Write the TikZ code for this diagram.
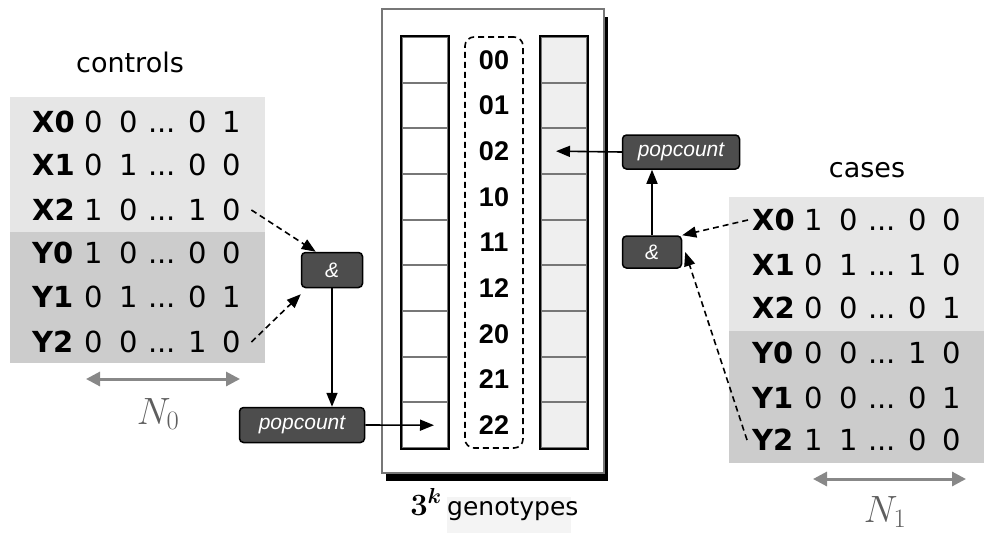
\RequirePackage{fix-cm}
\documentclass[tikz,border=0pt]{standalone}
\usepackage{fontspec}
\usepackage{amsmath}
\setmainfont{DejaVu Sans}
\newfontfamily\libsans{Liberation Sans}
\usetikzlibrary{arrows.meta}
\definecolor{lightrow}{HTML}{E6E6E6}
\definecolor{darkrow}{HTML}{CCCCCC}
\definecolor{opbox}{HTML}{4D4D4D}
\definecolor{rcol}{HTML}{EFEFEF}
\definecolor{framegray}{HTML}{777777}
\definecolor{ngray}{HTML}{5E5E5E}
\definecolor{arrgray}{HTML}{888888}
\definecolor{genobg}{HTML}{F4F4F4}
\newcommand{\datarow}[5]{\makebox[45pt][l]{\textbf{#1}}\makebox[34pt][c]{#2}\makebox[36pt][c]{#3}\makebox[30pt][c]{...}\makebox[42pt][c]{#4}\makebox[26pt][c]{#5}}
\tikzset{
  rowtxt/.style={anchor=west, inner sep=0pt, font=\fontsize{29}{29}\selectfont},
  optxt/.style={draw=black, line width=1.5pt, fill=opbox, rounded corners=4pt, text=white, inner sep=0pt,
     font=\libsans\itshape\fontsize{21}{21}\selectfont},
  gtlabel/.style={inner sep=0pt, font=\libsans\bfseries\fontsize{27}{27}\selectfont},
  cellL/.style={draw=framegray, line width=1.8pt, fill=white, minimum width=46pt, minimum height=45.67pt, inner sep=0pt},
  cellR/.style={draw=framegray, line width=1.8pt, fill=rcol, minimum width=46pt, minimum height=45.67pt, inner sep=0pt},
  solidarr/.style={line width=1.6pt, -{Triangle[length=14pt,width=11pt]}},
  dasharr/.style={line width=1.6pt, dash pattern=on 6pt off 4pt, -{Triangle[length=14pt,width=11pt]}},
  sizearr/.style={draw=arrgray, line width=3pt, {Triangle[length=14pt,width=14pt]}-{Triangle[length=14pt,width=14pt]}},
  heading/.style={inner sep=0pt, font=\fontsize{27}{27}\selectfont},
  nlabel/.style={inner sep=0pt, text=ngray, font=\fontsize{38}{38}\selectfont}
}
\begin{document}
\begin{tikzpicture}[x=1pt,y=-1pt]
\useasboundingbox (0,0) rectangle (984,533);
% ---------- controls ----------
\fill[lightrow] (10,97) rectangle (265,232);
\fill[darkrow] (10,232) rectangle (265,363);
\node[heading] (controls) at (130,62) {controls};
\node[rowtxt] (cx0) at (32,122) {\datarow{X0}{0}{0}{0}{1}};
\node[rowtxt] (cx1) at (32,165) {\datarow{X1}{0}{1}{0}{0}};
\node[rowtxt] (cx2) at (32,210) {\datarow{X2}{1}{0}{1}{0}};
\node[rowtxt] (cy0) at (32,253) {\datarow{Y0}{1}{0}{0}{0}};
\node[rowtxt] (cy1) at (32,297) {\datarow{Y1}{0}{1}{0}{1}};
\node[rowtxt] (cy2) at (32,342) {\datarow{Y2}{0}{0}{1}{0}};
\coordinate (n0a) at (86,379);
\coordinate (n0b) at (240,379);
\draw[sizearr] (n0a) -- (n0b);
\node[nlabel] (n0) at (158,414) {$N_0$};
% ---------- cases ----------
\fill[lightrow] (729,197) rectangle (984,331);
\fill[darkrow] (729,331) rectangle (984,463);
\node[heading] (cases) at (867,170) {cases};
\node[rowtxt] (kx0) at (752,220) {\datarow{X0}{1}{0}{0}{0}};
\node[rowtxt] (kx1) at (752,265) {\datarow{X1}{0}{1}{1}{0}};
\node[rowtxt] (kx2) at (752,308) {\datarow{X2}{0}{0}{0}{1}};
\node[rowtxt] (ky0) at (752,353) {\datarow{Y0}{0}{0}{1}{0}};
\node[rowtxt] (ky1) at (752,398) {\datarow{Y1}{0}{0}{0}{1}};
\node[rowtxt] (ky2) at (752,440) {\datarow{Y2}{1}{1}{0}{0}};
\coordinate (n1a) at (813,479);
\coordinate (n1b) at (966,479);
\draw[sizearr] (n1a) -- (n1b);
\node[nlabel] (n1) at (885,512) {$N_1$};
% ---------- central table ----------
\fill[black] (386,17) rectangle (608,481);
\node[draw=framegray, line width=2pt, fill=white, minimum width=222pt, minimum height=464pt, inner sep=0pt] (outer) at (493,241) {};
\foreach \i in {1,...,9} {
  \node[cellL] (L\i) at (425,{37+(\i-0.5)*45.67}) {};
  \node[cellR] (R\i) at (564,{37+(\i-0.5)*45.67}) {};
}
\draw[line width=2pt] (L1.north west) rectangle (L9.south east);
\draw[line width=2pt] (R1.north west) rectangle (R9.south east);
\node[draw, line width=1.6pt, dash pattern=on 6pt off 4pt, rounded corners=9pt, minimum width=58pt, minimum height=411pt, inner sep=0pt] (mid) at (494,242.5) {};
\foreach \t [count=\i] in {00,01,02,10,11,12,20,21,22} {
  \node[gtlabel] (g\t) at (494,{37+(\i-0.5)*45.67}) {\t};
}
\fill[genobg] (447,497) rectangle (571,533);
\node[inner sep=0pt, anchor=base, font=\fontsize{31}{31}\selectfont] (threek) at (426,515) {$\boldsymbol{3^k}$};
\node[inner sep=0pt, anchor=base west, font=\fontsize{25}{25}\selectfont] (geno) at (447,515) {genotypes};
% ---------- operators ----------
\node[optxt, minimum width=61pt, minimum height=35pt] (andL) at (332,270) {\&};
\node[optxt, minimum width=125pt, minimum height=35pt] (popL) at (302,425) {popcount};
\node[optxt, minimum width=59pt, minimum height=32pt] (andR) at (652,252) {\&};
\node[optxt, minimum width=117pt, minimum height=34pt] (popR) at (681,152) {popcount};
% ---------- connectors ----------
\draw[solidarr] (andL.south) -- (popL.north -| andL.south);
\draw[solidarr] (popL.east) -- ([xshift=9pt]L9.center);
\draw[solidarr] (andR.north) -- (popR.south -| andR.north);
\draw[solidarr] (popR.west) -- ([xshift=-8pt]R3.center);
\draw[dasharr] ([xshift=6pt]cx2.east) -- ([xshift=15pt]andL.north west);
\draw[dasharr] ([xshift=6pt]cy2.east) -- ([yshift=-6pt]andL.south west);
\draw[dasharr] ([xshift=-4pt]kx0.west) -- (andR.north east);
\draw[dasharr] ([xshift=-5pt]ky2.west) -- ([xshift=3pt]andR.east);
\end{tikzpicture}
\end{document}
